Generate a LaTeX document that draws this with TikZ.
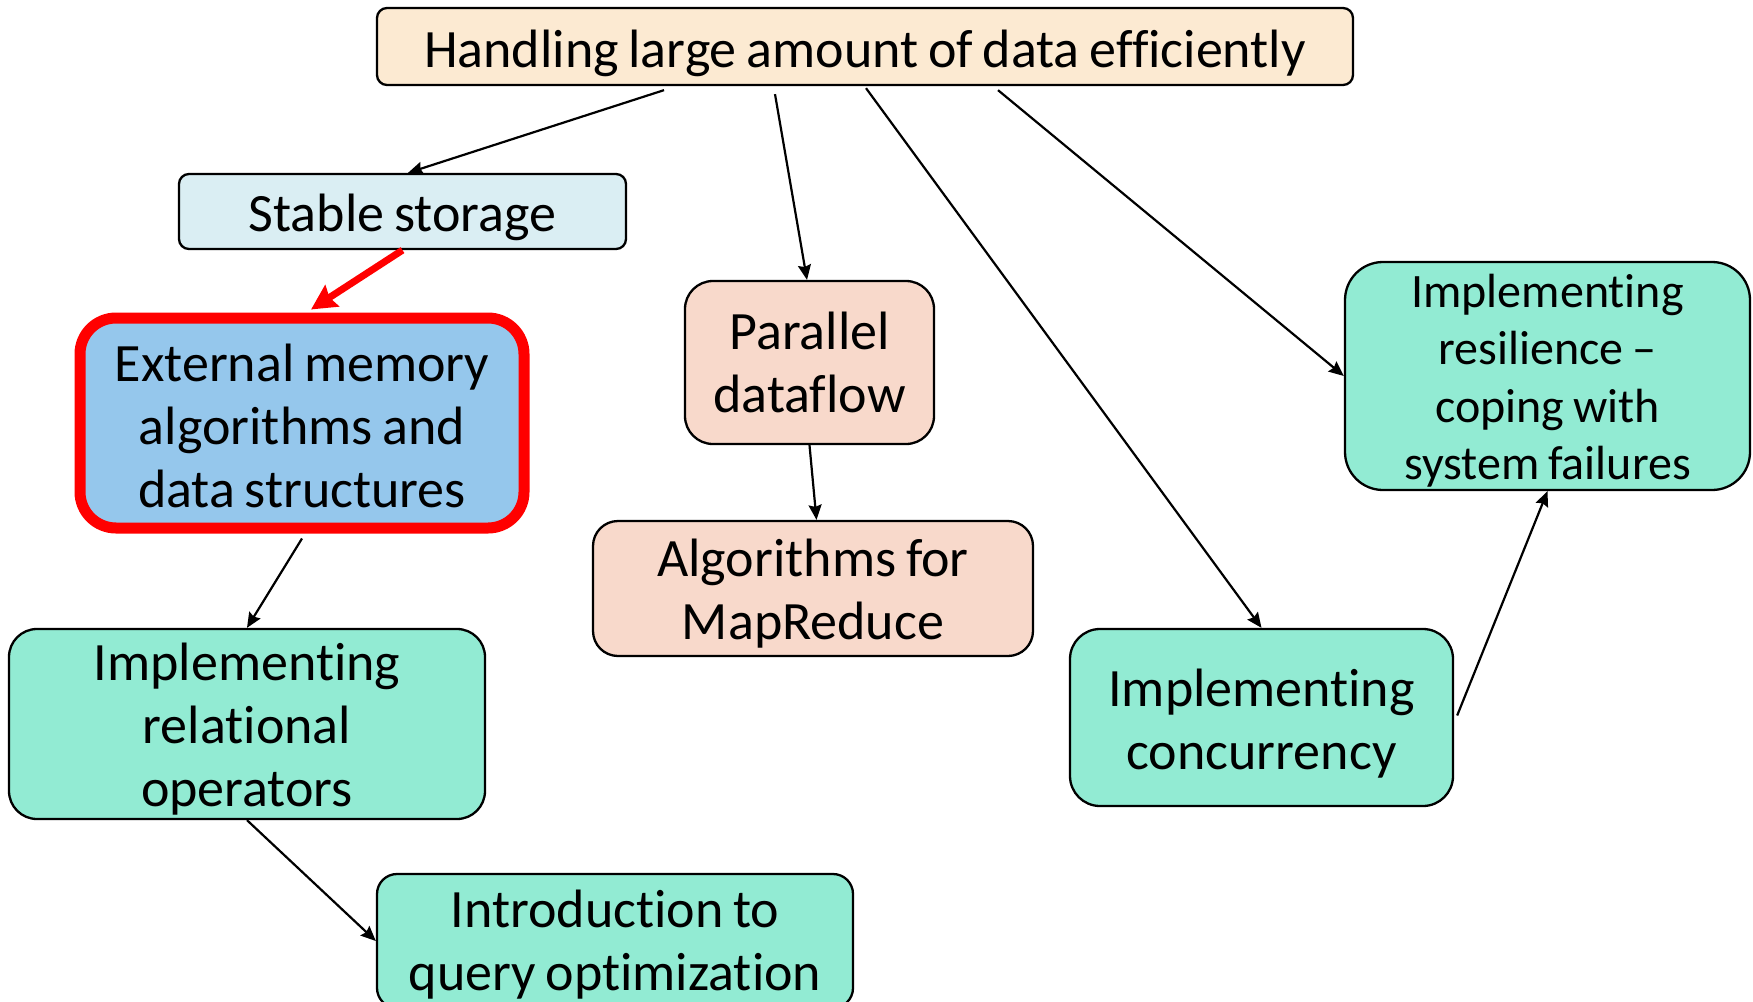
\documentclass[tikz,border=0pt]{standalone}
\usepackage{fontspec}
\setmainfont{Carlito}[Ligatures=NoCommon,WordSpace=0.8]
\usetikzlibrary{arrows.meta,calc}
\definecolor{cTop}{HTML}{FCEAD2}
\definecolor{cStable}{HTML}{DAEEF3}
\definecolor{cExt}{HTML}{95C7EC}
\definecolor{cPeach}{HTML}{F8D9CB}
\definecolor{cMint}{HTML}{92EBD3}
\definecolor{cRed}{HTML}{FF0000}
\tikzset{
  box/.style={draw=black, line width=2.3pt, inner sep=0pt},
  txt/.style={inner sep=0pt, align=flush center, font=\fontsize{54}{63}\selectfont},
  conn/.style={line width=2.2pt, -{Stealth[length=15pt,width=13pt,inset=2pt]}},
  redconn/.style={line width=7pt, cRed, -{Stealth[length=25pt,width=25pt,inset=3pt]}},
}
\begin{document}
\begin{tikzpicture}[x=1pt,y=-1pt]
\useasboundingbox (0,0) rectangle (1753,1001);
% boxes
\node[box, fill=cTop, rounded corners=10pt, minimum width=976pt, minimum height=77pt] (top) at (865,46.5) {};
\node[box, fill=cStable, rounded corners=10pt, minimum width=447pt, minimum height=75pt] (stable) at (402.5,211.5) {};
\node[box, fill=cExt, draw=cRed, line width=11pt, rounded corners=36pt, minimum width=444pt, minimum height=210pt] (ext) at (302,423) {};
\node[box, fill=cPeach, rounded corners=28pt, minimum width=249pt, minimum height=163pt] (par) at (809.5,362.5) {};
\node[box, fill=cPeach, rounded corners=25pt, minimum width=440pt, minimum height=135pt] (mr) at (813,588.5) {};
\node[box, fill=cMint, rounded corners=28pt, minimum width=476pt, minimum height=190pt] (rel) at (247,724) {};
\node[box, fill=cMint, rounded corners=20pt, minimum width=476pt, minimum height=134pt] (intro) at (615,941) {};
\node[box, fill=cMint, rounded corners=30pt, minimum width=383pt, minimum height=177pt] (conc) at (1261.5,717.5) {};
\node[box, fill=cMint, rounded corners=38pt, minimum width=405pt, minimum height=228pt] (res) at (1547.5,376) {};
% texts
\node[txt] (topt) at ([yshift=-7pt]top.center) {Handling large amount of data efficiently};
\node[txt] (stablet) at ([yshift=-5.5pt]stable.center) {Stable storage};
\node[txt] (extt) at ([yshift=-3pt]ext.center) {External memory\\algorithms and\\data structures};
\node[txt] (part) at (par.center) {Parallel\\dataflow};
\node[txt] (mrt) at ([yshift=-5pt]mr.center) {Algorithms for\\MapReduce};
\node[txt] (relt) at ([yshift=-5pt]rel.center) {Implementing\\relational\\operators};
\node[txt] (introt) at ([yshift=-3.5pt]intro.center) {Introduction to\\query optimization};
\node[txt] (conct) at ([yshift=-6pt]conc.center) {Implementing\\concurrency};
\node[txt, font=\fontsize{48}{57.5}\selectfont] (rest) at ([yshift=-4.5pt]res.center) {Implementing\\resilience --\\coping with\\system failures};
% connectors
\draw[conn] ([xshift=-201pt,yshift=-4pt]top.south) -- ([xshift=5.5pt]stable.north);
\draw[conn] ([xshift=-90pt,yshift=-8pt]top.south) -- ([xshift=-2.5pt]par.north);
\draw[conn] ([xshift=1pt,yshift=-2pt]top.south) -- (conc.north);
\draw[conn] ([xshift=133pt,yshift=-4pt]top.south) -- (res.west);
\draw[redconn] (stable.south) -- ([xshift=9pt,yshift=3pt]ext.north);
\draw[conn] ([yshift=-5pt]ext.south) -- (rel.north);
\draw[conn] (rel.south) -- (intro.west);
\draw[conn] (par.south) -- ([xshift=3.5pt]mr.north);
\draw[conn] ([xshift=3pt,yshift=2pt]conc.east) -- (res.south);
\end{tikzpicture}
\end{document}
